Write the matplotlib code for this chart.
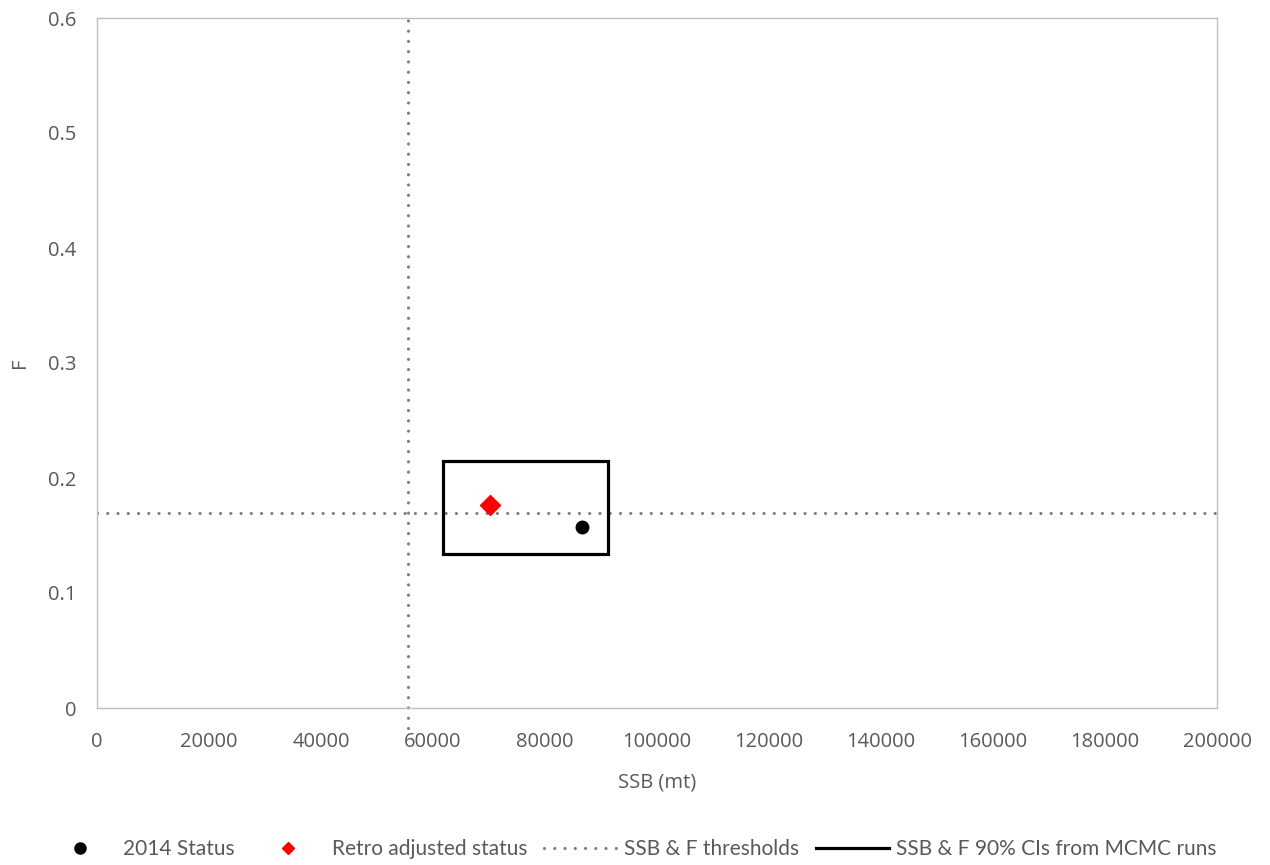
import matplotlib
matplotlib.use("Agg")
import matplotlib.pyplot as plt
from matplotlib.patches import Rectangle
from matplotlib.lines import Line2D

plt.rcParams['font.family'] = ['Open Sans', 'DejaVu Sans']

# Data
status_ssb = [86600]
status_f = [0.157]
retro_ssb = [70200]
retro_f = [0.1765]
ssb_threshold = 55500
f_threshold = 0.170
ci_ssb = [61800, 91300]
ci_f = [0.134, 0.215]
x_ticks = [0, 20000, 40000, 60000, 80000, 100000, 120000, 140000, 160000, 180000, 200000]
y_ticks = [0, 0.1, 0.2, 0.3, 0.4, 0.5, 0.6]
y_ticklabels = ['0', '0.1', '0.2', '0.3', '0.4', '0.5', '0.6']

fig = plt.figure(figsize=(12.7, 8.65), dpi=100)
ax = fig.add_axes([97/1270, 1 - 708/865, 1120/1270, 690/865])

grey = '#7f7f7f'
dot_style = dict(color=grey, lw=2.3, linestyle=(0, (0.01, 3.2)), dash_capstyle='round')

ax.plot([0, 200000], [f_threshold, f_threshold], **dot_style, zorder=2)
ax.plot([ssb_threshold, ssb_threshold], [-0.017, 0.6], **dot_style, zorder=2, clip_on=False)

rect = Rectangle((ci_ssb[0], ci_f[0]), ci_ssb[1] - ci_ssb[0], ci_f[1] - ci_f[0],
                 fill=False, edgecolor='black', lw=2.3, zorder=3)
ax.add_patch(rect)

ax.plot(status_ssb, status_f, 'o', color='black', markersize=9, zorder=4)
ax.plot(retro_ssb, retro_f, 'D', color='red', markersize=10, zorder=4)

ax.set_xlim(0, 200000)
ax.set_ylim(0, 0.6)
ax.set_xticks(x_ticks)
ax.set_xticklabels([str(v) for v in x_ticks])
ax.set_yticks(y_ticks)
ax.set_yticklabels(y_ticklabels)
ax.tick_params(length=0, labelsize=14.5, labelcolor='#595959')
ax.tick_params(axis='x', pad=17)
ax.tick_params(axis='y', pad=15)
for s in ax.spines.values():
    s.set_color('#bfbfbf')
    s.set_linewidth(1)

ax.set_xlabel('SSB (mt)', fontsize=14.5, color='#595959', labelpad=15)
ax.set_ylabel('F', fontsize=14.5, color='#595959', labelpad=13)

handles = [
    Line2D([], [], marker='o', color='black', linestyle='none', markersize=8),
    Line2D([], [], marker='D', color='red', linestyle='none', markersize=6.5),
    Line2D([], [], **dot_style),
    Line2D([], [], color='black', lw=2.3),
]
labels = ['2014 Status', 'Retro adjusted status', 'SSB & F thresholds', 'SSB & F 90% CIs from MCMC runs']
leg = fig.legend(handles, labels, loc='center', bbox_to_anchor=(630/1270, 1 - 849/865),
                 ncol=4, frameon=False, handlelength=3.5, columnspacing=0.8,
                 handletextpad=0.35, labelcolor='#595959',
                 prop={'family': ['Lato', 'DejaVu Sans'], 'size': 15})

fig.savefig('out.png', dpi=100)
